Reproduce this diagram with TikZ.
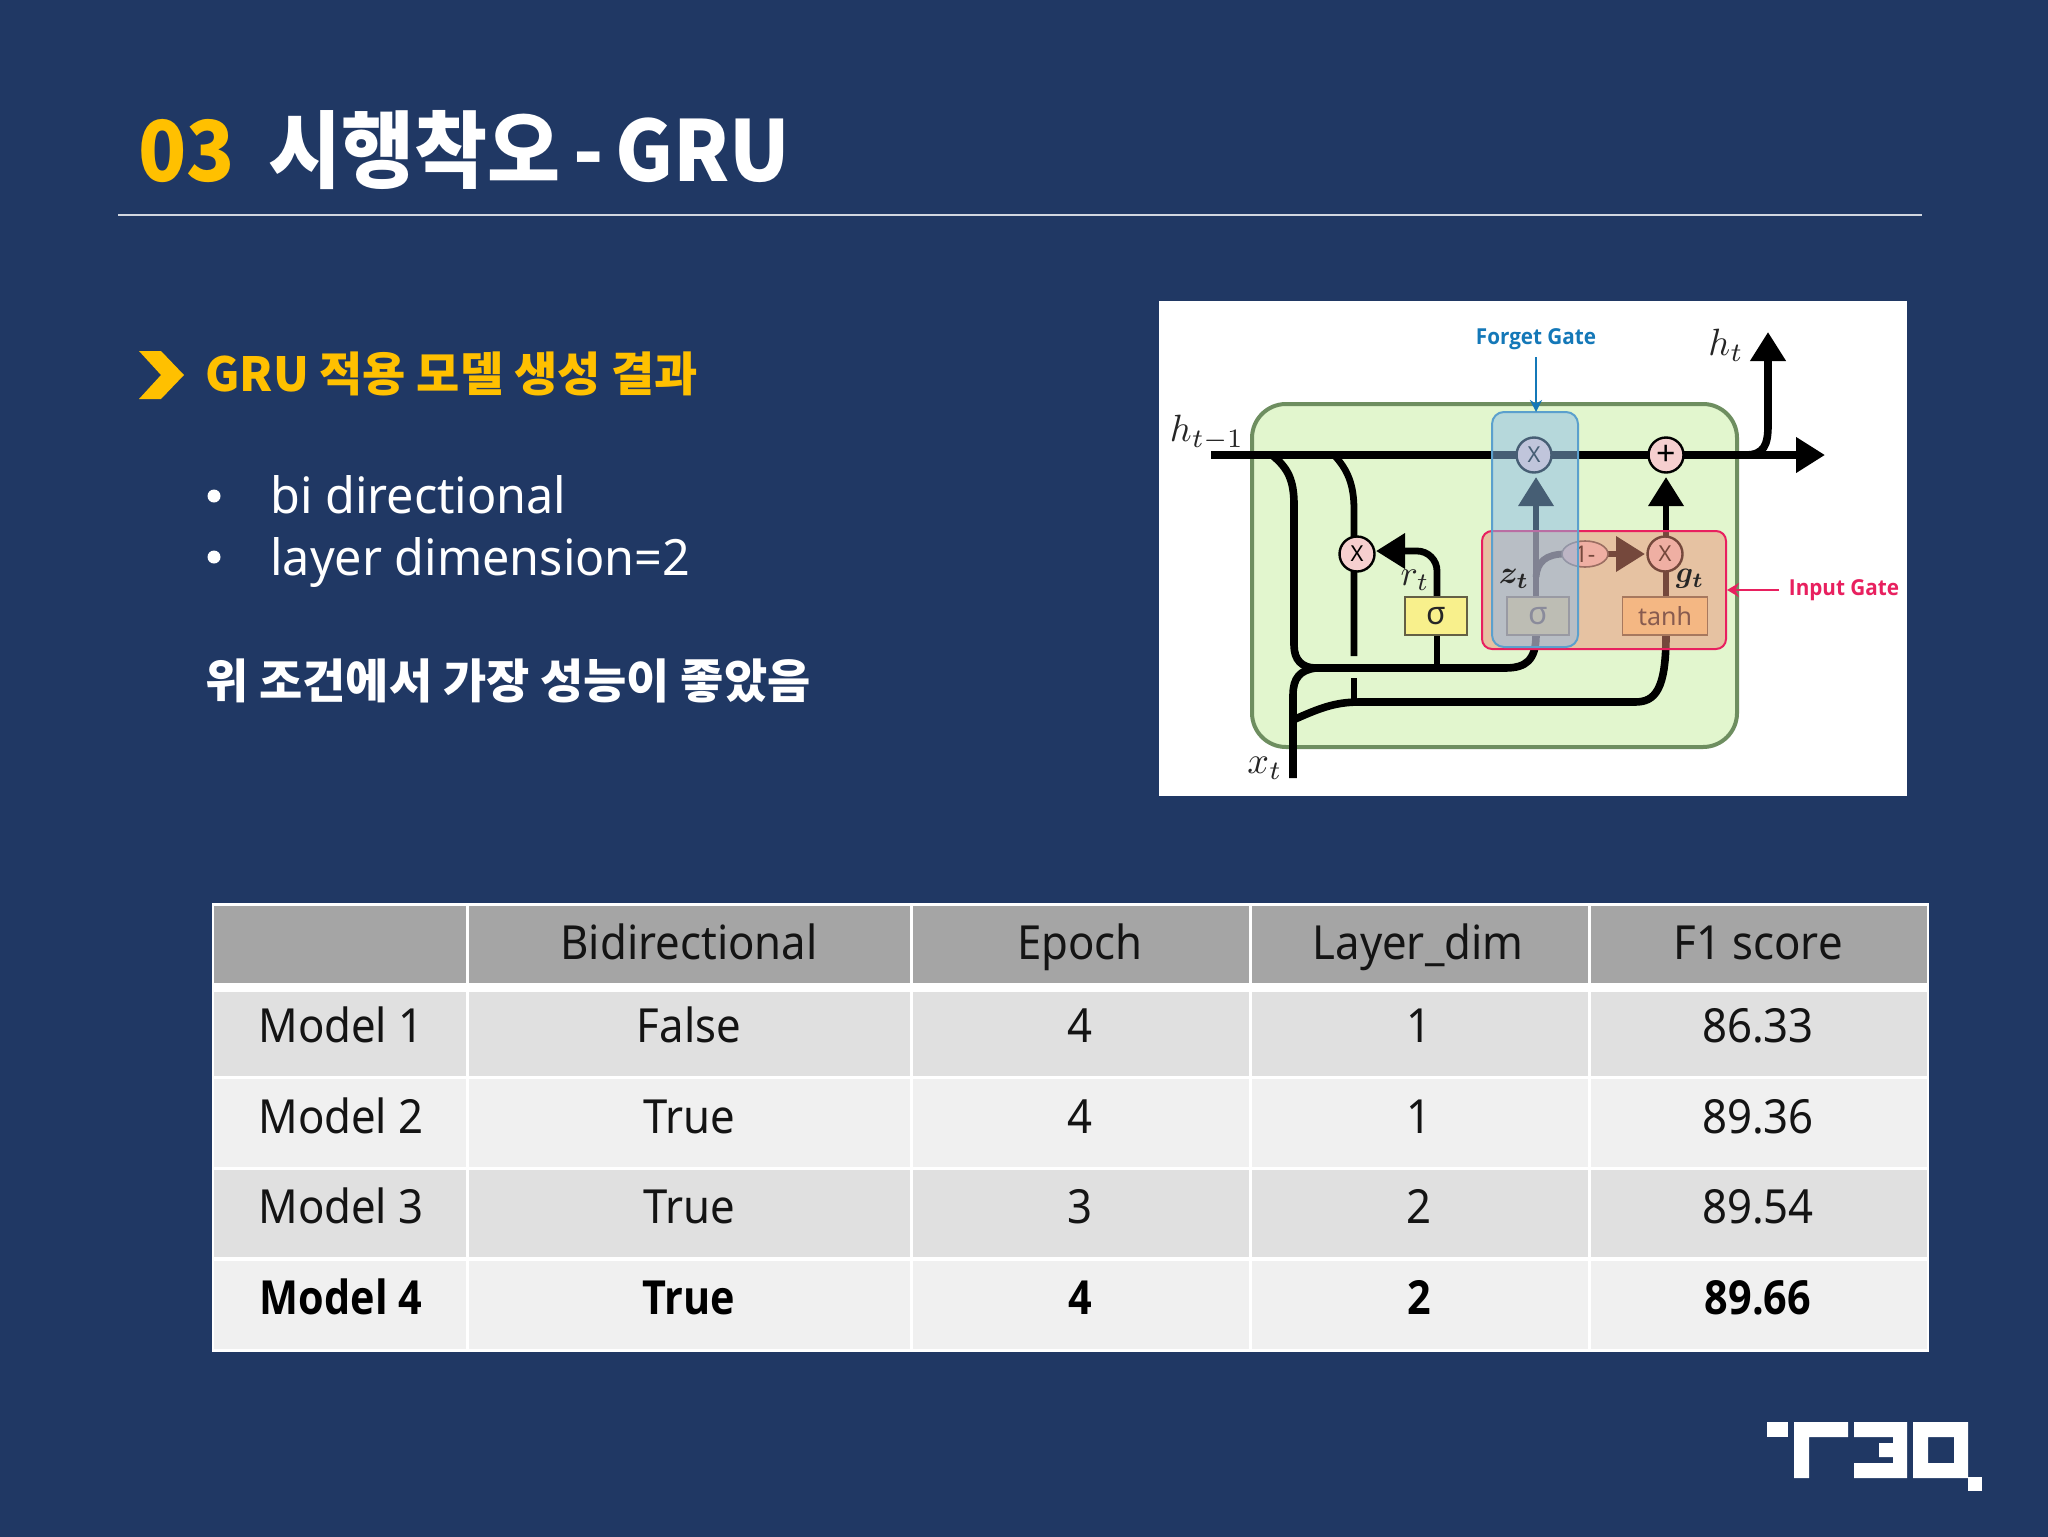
\documentclass[tikz,border=0pt]{standalone}
\usepackage{amsmath}
\usepackage{fontspec}
\usetikzlibrary{arrows.meta,shapes.geometric}
\setmainfont{Noto Sans}
\newfontfamily\krb[FakeStretch=0.945]{Noto Sans CJK KR}
\newfontfamily\krh{Noto Sans CJK KR}
\newfontfamily\tb[FakeStretch=0.93]{Noto Sans}
\newfontfamily\tbb[FakeStretch=0.88]{Open Sans}
\newfontfamily\lt[FakeStretch=0.97]{Noto Sans}
\newfontfamily\dg{Noto Sans}
\newfontfamily\dgb[FakeStretch=0.94]{Open Sans}
\definecolor{bgc}{HTML}{203864}
\definecolor{gold}{HTML}{FFC000}
\definecolor{hdr}{HTML}{A5A5A5}
\definecolor{rowa}{HTML}{E0E0E0}
\definecolor{rowb}{HTML}{F0F0F0}
\definecolor{cellg}{HTML}{E2F6CE}
\definecolor{cellb}{HTML}{6E8E60}
\definecolor{fgc}{HTML}{1478B8}
\definecolor{igc}{HTML}{E8205F}
\definecolor{circ}{HTML}{F6CFCF}
\definecolor{yel}{HTML}{F8F08C}
\definecolor{org}{HTML}{FFE090}
\definecolor{fgfill}{HTML}{8CBCE8}
\definecolor{igfill}{HTML}{EA9078}
\tikzset{
  tcell/.style={anchor=base,text=black!92,font=\tb\fontsize{23.5}{28}\selectfont,inner sep=0pt},
  tcellb/.style={anchor=base,text=black,font=\tbb\bfseries\fontsize{23.5}{28}\selectfont,inner sep=0pt},
  wire/.style={line width=3.8pt,black},
  wiren/.style={line width=3.4pt,black},
  opnode/.style={circle,draw=black,line width=1.2pt,fill=circ,minimum size=17.5pt,inner sep=0pt,font=\dg\fontsize{11}{12}\selectfont},
  fn/.style={draw=black!70!yellow,line width=.8pt,minimum width=31pt,minimum height=19pt,inner sep=0pt,text=black!85},
  onem/.style={ellipse,draw=black!70,line width=.8pt,fill=circ,minimum width=23pt,minimum height=13pt,inner sep=0pt,font=\dg\fontsize{11.5}{12}\selectfont},
  mathl/.style={inner sep=0pt,text=black!85},
  bighead/.style={-{Triangle[length=14.5pt,width=17pt]}},
}
\begin{document}
\begin{tikzpicture}[x=0.5pt,y=-0.5pt]
\useasboundingbox (0,0) rectangle (2048,1536);
\fill[bgc] (-10,-10) rectangle (2058,1546);
% title
\node[anchor=base west,inner sep=0pt,text=gold,font=\krb\bfseries\fontsize{42}{50}\selectfont] (num) at (138,181) {03};
\node[anchor=base west,inner sep=0pt,text=white,font=\krb\bfseries\fontsize{42}{50}\selectfont] (title) at (268,181) {시행착오\hspace{-2.5pt} -\hspace{-3.5pt} GRU};
\draw[line width=.7pt,color=white!80!bgc] (118,215) -- (1922,215);
% heading
\fill[gold] (139,351) -- (161,351) -- (184,375) -- (161,399) -- (139,399) -- (161,375) -- cycle;
\node[anchor=base west,inner sep=0pt,text=gold,font=\krh\bfseries\fontsize{23.5}{28}\selectfont] (head) at (205,391) {GRU 적용 모델 생성 결과};
\fill[white] (214,496) circle (6.5);
\fill[white] (214,557) circle (6.5);
\node[anchor=base west,inner sep=0pt,text=white,font=\lt\fontsize{25}{30}\selectfont] (b1) at (270,513) {bi directional};
\node[anchor=base west,inner sep=0pt,text=white,font=\lt\fontsize{25}{30}\selectfont] (b2) at (270,575) {layer dimension=2};
\node[anchor=base west,inner sep=0pt,text=white,font=\krh\bfseries\fontsize{23.5}{28}\selectfont] (res) at (205,698) {위 조건에서 가장 성능이 좋았음};
% GRU figure
\fill[white] (1159,301) rectangle (1907,796);
\draw[cellb,line width=2pt,fill=cellg,rounded corners=17pt] (1252,404) rectangle (1737,747);
% named anchors of the figure
\coordinate (mf) at (1534,455);
\coordinate (pl) at (1666,455);
\coordinate (hs) at (1211,455);
\coordinate (he) at (1825,455);
\coordinate (ho) at (1768,332);
\coordinate (xs) at (1293,778);
\coordinate (gapa) at (1354,656);
\coordinate (gapb) at (1354,678);
% wires
\draw[wire,bighead] (hs) -- (he);
\draw[wire,bighead] (1745,455) .. controls (1764,455) and (1768,445) .. (1768,425) -- (ho);
\draw[wire] (1272,455) .. controls (1288,468) and (1294,480) .. (1294,505) -- (1294,645) .. controls (1294,660) and (1302,668) .. (1316,668) -- (1505,668) .. controls (1526,668) and (1536,660) .. (1536,635);
\draw[wiren] (1334,455) .. controls (1348,470) and (1354,485) .. (1354,510) -- (gapa);
\draw[wiren] (gapb) -- (1354,702);
\draw[wire] (xs) -- (1293,695) .. controls (1293,678) and (1300,670) .. (1316,668);
\draw[wire] (1293,720) .. controls (1320,708) and (1335,702) .. (1360,702) -- (1635,702) .. controls (1655,702) and (1666,690) .. (1666,635);
\draw[wiren] (1437,668) -- (1437,597);
\draw[wiren,rounded corners=10pt,bighead] (1437,600) -- (1437,551) -- (1376,551);
\draw[wiren,bighead] (1536,600) -- (1536,477);
\draw[wiren] (1536,577) .. controls (1537,562) and (1546,554) .. (1565,554);
\draw[wiren,bighead] (1600,554) -- (1645,554);
\draw[wiren,bighead] (1666,600) -- (1666,477);
% nodes
\node[opnode] (nmf) at (mf) {X};
\node[opnode] (npl) at (pl) {\fontsize{17}{18}\selectfont +};
\node[opnode] (nmr) at (1357,554) {X};
\node[opnode] (nmg) at (1665,554) {X};
\node[fn,fill=yel,font=\dg\fontsize{16}{18}\selectfont] (s1) at (1436,616) {σ};
\node[fn,fill=yel,font=\dg\fontsize{16}{18}\selectfont] (s2) at (1538,616) {σ};
\node[fn,fill=org,minimum width=42.5pt,font=\dg\fontsize{12.5}{14}\selectfont] (th) at (1665,616) {tanh};
\node[onem] (om) at (1585,554) {1-};
% gate overlays
\draw[igc,line width=1pt,fill=igfill,fill opacity=.5,rounded corners=5pt] (1482,531) rectangle (1726,649);
\draw[fgc!70,line width=1pt,fill=fgfill,fill opacity=.5,rounded corners=6pt] (1492,412) rectangle (1578,647);
\node[mathl,scale=1.9] (lht) at (1726,345) {$h_t$};
\node[mathl,scale=1.9] (lhp) at (1207,433) {$h_{t-1}$};
\node[mathl,scale=1.8] (lrt) at (1415,580) {$r_t$};
\node[mathl,scale=1.9] (lxt) at (1265,768) {$x_t$};
\node[mathl,scale=1.6] (lzt) at (1514,579) {$\boldsymbol{z_t}$};
\node[mathl,scale=1.5] (lgt) at (1690,579) {$\boldsymbol{g_t}$};
\node[inner sep=0pt,text=fgc,font=\dgb\bfseries\fontsize{11}{12}\selectfont] (fl) at (1536,339) {Forget Gate};
\node[inner sep=0pt,text=igc,font=\dgb\bfseries\fontsize{11}{12}\selectfont] (il) at (1844,590) {Input Gate};
\draw[fgc,line width=1pt,-{Stealth[length=6pt,width=6pt]}] (1536,357) -- (1536,412);
\draw[igc,line width=1.2pt,-{Stealth[length=6pt,width=7pt]}] (1779,590) -- (1727,590);
% table
\fill[white] (212,903) rectangle (1929,1352);
\foreach \xa/\xb in {213/466,468/910,912/1249,1251/1588,1590/1927}{
  \fill[hdr] (\xa+1,906) rectangle (\xb,983);
  \fill[rowa] (\xa+1,992) rectangle (\xb,1076);
  \fill[rowb] (\xa+1,1079) rectangle (\xb,1167);
  \fill[rowa] (\xa+1,1170) rectangle (\xb,1257);
  \fill[rowb] (\xa+1,1261) rectangle (\xb,1349);
}
\node[tcell] (h1) at (689,959) {Bidirectional};
\node[tcell] (h2) at (1080,959) {Epoch};
\node[tcell] (h3) at (1418,959) {Layer\_dim};
\node[tcell] (h4) at (1758,959) {F1 score};
\node[tcell] (a0) at (341,1042) {Model 1};
\node[tcell] (a1) at (689,1042) {False};
\node[tcell] (a2) at (1080,1042) {4};
\node[tcell] (a3) at (1419,1042) {1};
\node[tcell] (a4) at (1758,1042) {86.33};
\node[tcell] (c0) at (341,1133) {Model 2};
\node[tcell] (c1) at (689,1133) {True};
\node[tcell] (c2) at (1080,1133) {4};
\node[tcell] (c3) at (1419,1133) {1};
\node[tcell] (c4) at (1758,1133) {89.36};
\node[tcell] (d0) at (341,1223) {Model 3};
\node[tcell] (d1) at (689,1223) {True};
\node[tcell] (d2) at (1080,1223) {3};
\node[tcell] (d3) at (1419,1223) {2};
\node[tcell] (d4) at (1758,1223) {89.54};
\node[tcellb] (e0) at (341,1314) {Model 4};
\node[tcellb] (e1) at (689,1314) {True};
\node[tcellb] (e2) at (1080,1314) {4};
\node[tcellb] (e3) at (1419,1314) {2};
\node[tcellb] (e4) at (1758,1314) {89.66};
% logo
\fill[white] (1767,1422) rectangle (1788,1437);
\fill[white] (1794,1422) -- (1848,1422) -- (1848,1437) -- (1809,1437) -- (1809,1478) -- (1794,1478) -- cycle;
\fill[white] (1854,1422) -- (1907,1422) -- (1907,1478) -- (1854,1478) -- (1854,1463) -- (1893,1463) -- (1893,1457) -- (1879,1457) -- (1879,1443) -- (1893,1443) -- (1893,1437) -- (1854,1437) -- cycle;
\fill[white,even odd rule] (1913,1422) rectangle (1968,1478) (1928,1437) rectangle (1954,1463);
\fill[white] (1968,1477) rectangle (1982,1491);
\end{tikzpicture}
\end{document}
